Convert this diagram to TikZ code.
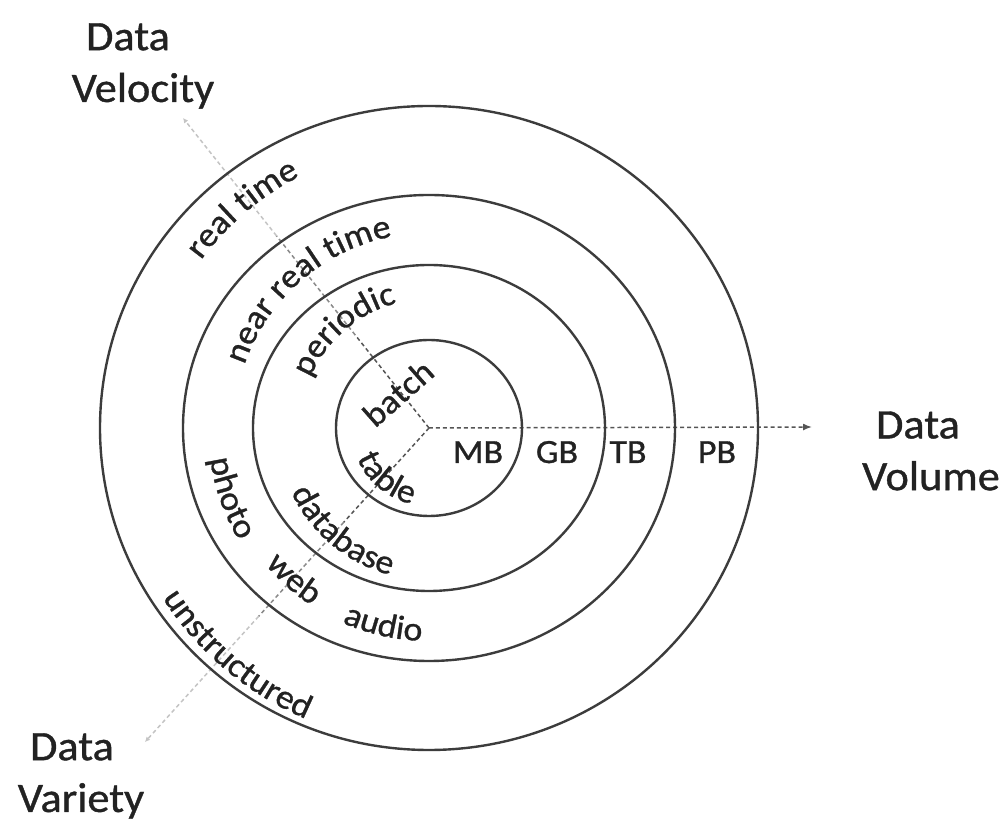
\documentclass[tikz,border=0pt]{standalone}
\usepackage{fontspec}
\setmainfont{Carlito}[FakeStretch=1.06, FakeBold=0.9]
\usetikzlibrary{decorations.text,arrows.meta,calc}

\definecolor{ink}{HTML}{222222}
\definecolor{ringgray}{HTML}{3C3C3C}
\definecolor{axisdark}{HTML}{555555}
\definecolor{axismid}{HTML}{8A8A8A}
\definecolor{axislight}{HTML}{C4C4C4}

\newcommand{\ringfont}{\fontsize{34}{40}\selectfont}
\newcommand{\axisfont}{\fontsize{42}{52}\selectfont}

% text on an arc around (O): letters point away from the centre
\newcommand{\outerlabel}[3]{%
  \pgfmathsetmacro{\sa}{#2+80}\pgfmathsetmacro{\ea}{#2-80}%
  \path[decorate, decoration={text along path, text align=center,
      text={|\ringfont\color{ink}|#3}}]
    ([shift={(\sa:#1)}]O) arc[start angle=\sa, end angle=\ea, radius=#1];}
% text on an arc around (O): letters point towards the centre
\newcommand{\innerlabel}[3]{%
  \pgfmathsetmacro{\sa}{#2-80}\pgfmathsetmacro{\ea}{#2+80}%
  \path[decorate, decoration={text along path, text align=center,
      text={|\ringfont\color{ink}|#3}}]
    ([shift={(\sa:#1)}]O) arc[start angle=\sa, end angle=\ea, radius=#1];}

\begin{document}
\begin{tikzpicture}[x=1bp,y=1bp,
  ringline/.style={draw=ringgray, line width=2.4},
  dashdark/.style={draw=axisdark, line width=1.5, dash pattern=on 4 off 3},
  dashmid/.style={draw=axismid, line width=1.5, dash pattern=on 4 off 3},
  dashlight/.style={draw=axislight, line width=1.5, dash pattern=on 4 off 3},
  axislabel/.style={font=\axisfont, text=ink, align=center, inner sep=0},
  unitlabel/.style={font=\ringfont, text=ink, inner sep=0, anchor=base},
]
\useasboundingbox[fill=white] (0,0) rectangle (1003,823);

\coordinate (O) at (429,395);
\coordinate (volEnd) at (812,396);
\coordinate (velEnd) at (183,705);
\coordinate (varEnd) at (145,81);

% axes
\draw[dashdark, -{Latex[length=9,width=7]}] (O) -- (volEnd);
\draw[dashdark] (O) -- ($(O)!0.3!(velEnd)$) coordinate (velA);
\draw[dashmid] (velA) -- ($(O)!0.62!(velEnd)$) coordinate (velB);
\draw[dashlight, -{Latex[length=5,width=5]}] (velB) -- (velEnd);
\draw[dashdark] (O) -- ($(O)!0.3!(varEnd)$) coordinate (varA);
\draw[dashmid] (varA) -- ($(O)!0.6!(varEnd)$) coordinate (varB);
\draw[dashlight, -{Latex[length=5,width=5]}] (varB) -- (varEnd);

% rings
\draw[ringline] (O) ellipse [x radius=93, y radius=88];
\draw[ringline] (O) ellipse [x radius=176, y radius=163];
\draw[ringline] (O) ellipse [x radius=246, y radius=233];
\draw[ringline] (O) ellipse [x radius=329, y radius=322];

% velocity
\node[font=\ringfont, text=ink, inner sep=0, rotate=41.5] (batch) at (398,430) {batch};
\outerlabel{129}{130.8}{periodic}
\outerlabel{195}{131}{near real time}
\outerlabel{283}{130.4}{real time}

% variety
\innerlabel{78}{229.8}{table}
\innerlabel{152}{230.1}{database}
\innerlabel{221}{199.4}{photo}
\innerlabel{213}{228.2}{web}
\innerlabel{213}{257}{audio}
\innerlabel{316}{229.8}{unstructured}

% volume
\node[unitlabel] (mb) at (478,360) {MB};
\node[unitlabel] (gb) at (557,360) {GB};
\node[unitlabel] (tb) at (628,360) {TB};
\node[unitlabel] (pb) at (717,360) {PB};

% axis titles
\node[axislabel] (velocity) at (143,757) {\kern-30bp Data\\Velocity};
\node[axislabel] (variety) at (81,47) {\kern-18bp Data\\Variety};
\node[axislabel] (volume) at (931,372) {\kern-26bp Data\\Volume};
\end{tikzpicture}
\end{document}
